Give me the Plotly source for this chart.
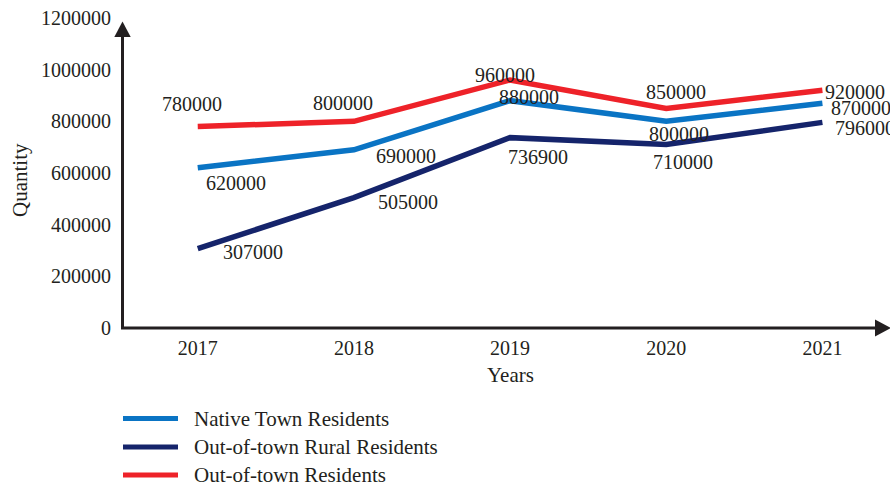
import plotly.graph_objects as go

# ---- data ----
years = ["2017", "2018", "2019", "2020", "2021"]
native_town = [620000, 690000, 880000, 800000, 870000]
rural_out = [307000, 505000, 736900, 710000, 796000]
out_of_town = [780000, 800000, 960000, 850000, 920000]
series_names = ["Native Town Residents", "Out-of-town Rural Residents", "Out-of-town Residents"]
y_ticks = [0, 200000, 400000, 600000, 800000, 1000000, 1200000]

# ---- style ----
W, H = 890, 485
ML, MR, MT, MB = 122, 2, 18, 157
PW, PH = W - ML - MR, H - MT - MB
colors = ["#0a74c4", "#15246b", "#ee2229"]
FONT = "Liberation Serif, Times New Roman, serif"
TXT = "#231f20"
FS = 20

# label offsets (px) for each series point: (xshift, yshift)
offs_native = [(38, -15), (52, -6), (19, 4), (13, -13), (39, -5)]
offs_rural = [(55, -3), (54, -4), (28, -19), (17, -17), (43, -6)]
offs_out = [(-6, 23), (-11, 18), (-5, 5), (10, 16), (33, -2)]


def px2paper(px, py):
    return (px - ML) / PW, (H - MB - py) / PH


fig = go.Figure()
series = [native_town, rural_out, out_of_town]
offsets = [offs_native, offs_rural, offs_out]
for name, vals, col in zip(series_names, series, colors):
    fig.add_trace(go.Scatter(
        x=years, y=vals, mode="lines", name=name,
        line=dict(color=col, width=5.5), showlegend=False,
        hoverinfo="x+y+name",
    ))

annotations = []
for vals, offs in zip(series, offsets):
    for i, (v, (dx, dy)) in enumerate(zip(vals, offs)):
        annotations.append(dict(
            x=i, y=v, xref="x", yref="y", text=str(v), showarrow=False,
            xshift=dx, yshift=dy, xanchor="center", yanchor="middle",
            font=dict(family=FONT, size=FS, color=TXT),
        ))

# axis titles
qx, qy = px2paper(20, 180)
annotations.append(dict(x=qx, y=qy, xref="paper", yref="paper", text="Quantity",
                        textangle=-90, showarrow=False, xanchor="center", yanchor="middle",
                        font=dict(family=FONT, size=21, color=TXT)))
yx, yy = px2paper(510, 375)
annotations.append(dict(x=yx, y=yy, xref="paper", yref="paper", text="Years",
                        showarrow=False, xanchor="center", yanchor="middle",
                        font=dict(family=FONT, size=21, color=TXT)))

shapes = []
# axes lines with arrows
x0, y0 = px2paper(122.5, 328)
xt, yt = px2paper(122.5, 36)
shapes.append(dict(type="line", xref="paper", yref="paper", x0=x0, y0=y0, x1=xt, y1=yt,
                   line=dict(color=TXT, width=3)))
ax_, ay_ = px2paper(876, 328)
shapes.append(dict(type="line", xref="paper", yref="paper", x0=x0 - 1.5 / PW, y0=y0, x1=ax_, y1=ay_,
                   line=dict(color=TXT, width=3)))
# y arrow head
t = px2paper(122.5, 21.5)
bl = px2paper(114.3, 37)
br = px2paper(130.7, 37)
shapes.append(dict(type="path", xref="paper", yref="paper",
                   path=f"M {t[0]} {t[1]} L {bl[0]} {bl[1]} L {br[0]} {br[1]} Z",
                   fillcolor=TXT, line=dict(width=0)))
# x arrow head
t = px2paper(891, 328)
bt = px2paper(875, 319.5)
bb = px2paper(875, 336.5)
shapes.append(dict(type="path", xref="paper", yref="paper",
                   path=f"M {t[0]} {t[1]} L {bt[0]} {bt[1]} L {bb[0]} {bb[1]} Z",
                   fillcolor=TXT, line=dict(width=0)))

# manual legend
leg_rows = [418.5, 447, 475]
for name, col, ry in zip(series_names, colors, leg_rows):
    a = px2paper(123, ry)
    b = px2paper(178, ry)
    shapes.append(dict(type="line", xref="paper", yref="paper", x0=a[0], y0=a[1], x1=b[0], y1=b[1],
                       line=dict(color=col, width=5)))
    tx = px2paper(192, ry)
    annotations.append(dict(x=tx[0], y=tx[1], xref="paper", yref="paper", text=name,
                            showarrow=False, xanchor="left", yanchor="middle",
                            font=dict(family=FONT, size=21, color=TXT)))

fig.update_layout(
    width=W, height=H,
    margin=dict(l=ML, r=MR, t=MT, b=MB),
    paper_bgcolor="white", plot_bgcolor="white",
    showlegend=False,
    annotations=annotations, shapes=shapes,
    font=dict(family=FONT, size=FS, color=TXT),
)
fig.update_xaxes(type="category", range=[-0.485, 4.42], showgrid=False, zeroline=False,
                 showline=False, ticks="", ticklabelstandoff=6,
                 tickfont=dict(family=FONT, size=FS, color=TXT))
fig.update_yaxes(range=[0, 1200000], tickvals=y_ticks, ticktext=[str(v) for v in y_ticks],
                 showgrid=False, zeroline=False, showline=False, ticks="",
                 ticklabelstandoff=10, tickfont=dict(family=FONT, size=FS, color=TXT))

fig.write_html("out.html", config={"displayModeBar": False},
               post_script="document.body.style.margin='0';")
